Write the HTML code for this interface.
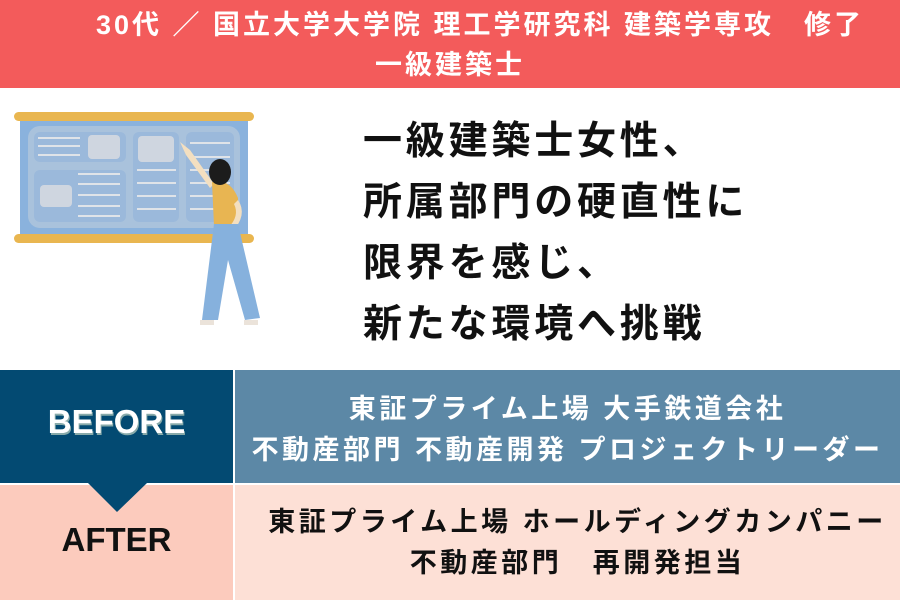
<!DOCTYPE html>
<html><head><meta charset="utf-8"><style>
body{margin:0;width:900px;height:600px;position:relative;overflow:hidden;background:#fff;font-family:"Liberation Sans","Noto Sans CJK JP",sans-serif;font-weight:bold}
.a{position:absolute}
</style></head><body>
<div class="a" style="left:60px;top:0;width:0;height:0"></div>
<div class="a" style="left:0;top:0;width:900px;height:88px;background:#f35b5b"></div>
<div class="a" style="left:60px;top:8px;width:840px;text-align:center;font-size:27px;letter-spacing:3px;color:#fff;line-height:34px;white-space:nowrap">30代 ／ 国立大学大学院 理工学研究科 建築学専攻　修了</div>
<div class="a" style="left:0;top:48px;width:900px;text-align:center;font-size:27px;letter-spacing:3px;color:#fff;line-height:34px">一級建築士</div>

<svg class="a" style="left:0;top:100px" width="300" height="240" viewBox="0 0 300 240">
<rect x="20" y="18" width="228" height="118" fill="#8ab2dd"/>
<rect x="28" y="26" width="212" height="102" rx="12" fill="#a9c2dc"/>
<rect x="34" y="32" width="92" height="30" rx="6" fill="#9bb9db"/>
<rect x="88" y="35" width="32" height="24" rx="4" fill="#cfd6e0"/>
<rect x="34" y="70" width="92" height="52" rx="6" fill="#9bb9db"/>
<rect x="40" y="85" width="32" height="22" rx="4" fill="#cfd6e0"/>
<rect x="133" y="32" width="46" height="90" rx="6" fill="#9bb9db"/>
<rect x="138" y="36" width="36" height="26" rx="4" fill="#cfd6e0"/>
<rect x="186" y="32" width="48" height="90" rx="6" fill="#9bb9db"/>
<g stroke="#dfe3e8" stroke-width="2">
<line x1="38" y1="38" x2="80" y2="38"/><line x1="38" y1="46" x2="80" y2="46"/><line x1="38" y1="55" x2="80" y2="55"/>
<line x1="78" y1="74" x2="120" y2="74"/><line x1="78" y1="84" x2="120" y2="84"/><line x1="78" y1="95" x2="120" y2="95"/><line x1="78" y1="106" x2="120" y2="106"/><line x1="78" y1="116" x2="120" y2="116"/>
<line x1="137" y1="70" x2="176" y2="70"/><line x1="137" y1="83" x2="176" y2="83"/><line x1="137" y1="96" x2="176" y2="96"/><line x1="137" y1="109" x2="176" y2="109"/>
<line x1="190" y1="43" x2="230" y2="43"/><line x1="190" y1="57" x2="230" y2="57"/><line x1="190" y1="70" x2="230" y2="70"/><line x1="190" y1="83" x2="230" y2="83"/><line x1="190" y1="96" x2="230" y2="96"/><line x1="190" y1="109" x2="230" y2="109"/>
</g>
<rect x="14" y="12" width="240" height="9" rx="4.5" fill="#e9b650"/>
<rect x="14" y="134" width="240" height="9" rx="4.5" fill="#e9b650"/>
<path d="M180 42 L186 55 L210 88 L214 84 L190 50 Z" fill="#f3dfc0"/>
<path d="M212 82 Q230 78 238 98 L238 124 L214 126 Z" fill="#e8b552"/>
<path d="M238 100 Q248 115 232 132 L228 128 Q240 116 234 104 Z" fill="#f3dfc0"/>
<ellipse cx="220" cy="72" rx="11" ry="13" fill="#1c1c1c"/>
<path d="M214 124 L238 124 L260 218 L245 220 L228 160 L218 220 L202 220 Z" fill="#86b1dd"/>
<rect x="200" y="220" width="14" height="5" fill="#ebe3da"/><rect x="244" y="220" width="14" height="5" fill="#ebe3da"/>
</svg>

<div class="a" style="left:363px;top:111px;font-size:39px;letter-spacing:3.8px;line-height:61px;color:#111;white-space:nowrap">一級建築士女性、<br>所属部門の硬直性に<br>限界を感じ、<br>新たな環境へ挑戦</div>

<div class="a" style="left:0;top:370px;width:233px;height:113px;background:#034a72"></div>
<div class="a" style="left:235px;top:370px;width:665px;height:113px;background:#5c88a6"></div>
<div class="a" style="left:0;top:485px;width:233px;height:115px;background:#fccbbd"></div>
<div class="a" style="left:235px;top:485px;width:665px;height:115px;background:#fde0d6"></div>
<svg class="a" style="left:0;top:483px" width="233" height="40"><polygon points="88,0 147,0 117,29" fill="#034a72"/></svg>
<div class="a" style="left:0;top:403px;width:233px;text-align:center;font-size:33px;color:#fff;text-shadow:1px 2px 0 #8aa">BEFORE</div>
<div class="a" style="left:0;top:521px;width:233px;text-align:center;font-size:33px;color:#111">AFTER</div>
<div class="a" style="left:235px;top:389px;width:665px;text-align:center;font-size:27px;letter-spacing:3.5px;line-height:41px;color:#fff;white-space:nowrap">東証プライム上場 大手鉄道会社<br>不動産部門 不動産開発 プロジェクトリーダー</div>
<div class="a" style="left:245px;top:502px;width:665px;text-align:center;font-size:27px;letter-spacing:3.5px;line-height:41px;color:#111;white-space:nowrap">東証プライム上場 ホールディングカンパニー<br>不動産部門　再開発担当</div>
</body></html>
